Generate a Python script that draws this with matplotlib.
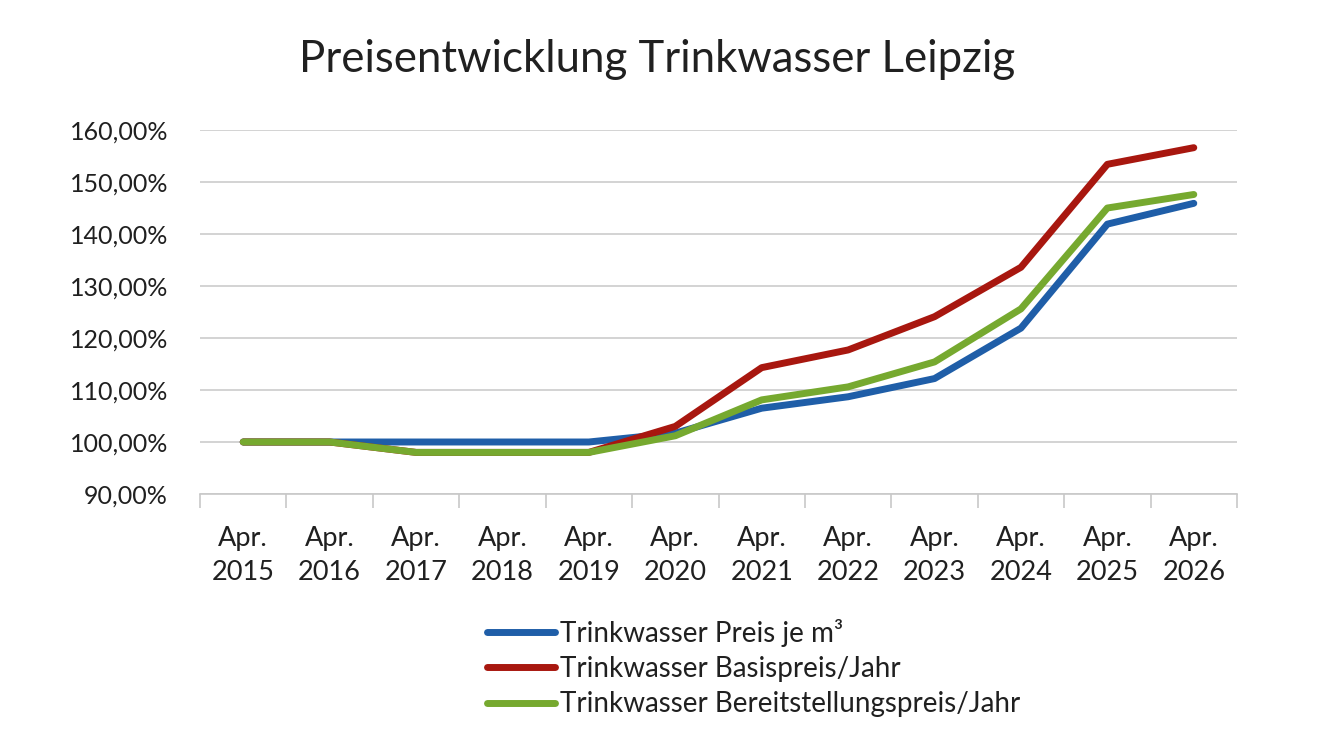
import matplotlib
matplotlib.use("Agg")
import matplotlib.pyplot as plt
from matplotlib.ticker import FuncFormatter, FixedLocator

plt.rcParams["font.family"] = ["Lato", "DejaVu Sans"]

years = ["Apr.\n2015", "Apr.\n2016", "Apr.\n2017", "Apr.\n2018", "Apr.\n2019", "Apr.\n2020",
         "Apr.\n2021", "Apr.\n2022", "Apr.\n2023", "Apr.\n2024", "Apr.\n2025", "Apr.\n2026"]
preis_m3 = [100, 100, 100, 100, 100, 101.7, 106.5, 108.7, 112.2, 121.9, 141.9, 145.9]
basispreis = [100, 100, 98, 98, 98, 103.0, 114.3, 117.7, 124.1, 133.6, 153.4, 156.6]
bereitstellung = [100, 100, 98, 98, 98, 101.2, 108.1, 110.6, 115.4, 125.6, 145.0, 147.6]

labels = ["Trinkwasser Preis je m³", "Trinkwasser Basispreis/Jahr",
          "Trinkwasser Bereitstellungspreis/Jahr"]
colors = ["#1F5EA8", "#A8170F", "#76A92F"]

fig = plt.figure(figsize=(13.18, 7.49), dpi=100)
ax = fig.add_axes([200 / 1318, 255 / 749, 1037 / 1318, 364 / 749])

x = list(range(len(years)))
# red under green where they overlap (2015-2019)
for series, lab, col, z in [(preis_m3, labels[0], colors[0], 3),
                            (basispreis, labels[1], colors[1], 4),
                            (bereitstellung, labels[2], colors[2], 5)]:
    ax.plot(x, series, color=col, linewidth=5, label=lab, zorder=z,
            solid_capstyle="round", solid_joinstyle="round")

ax.set_xlim(-0.5, len(years) - 0.5)
ax.set_ylim(90, 160)
ax.set_yticks(range(90, 161, 10))
ax.yaxis.set_major_formatter(FuncFormatter(lambda v, p: f"{v:.2f}%".replace(".", ",")))
ax.grid(axis="y", color="#D0D0D0", linewidth=1.3, zorder=0)

ax.set_xticks(x)
ax.set_xticklabels(years, fontsize=19.5, color="#202020", linespacing=1.45)
ax.xaxis.set_minor_locator(FixedLocator([i - 0.5 for i in range(len(years) + 1)]))
ax.tick_params(axis="x", which="major", length=0, pad=23)
ax.tick_params(axis="x", which="minor", length=10, color="#C8C8C8", width=1.2)
ax.tick_params(axis="y", length=0, pad=23, labelsize=18, labelcolor="#202020")

for side in ["left", "right", "top"]:
    ax.spines[side].set_visible(False)
ax.spines["bottom"].set_color("#C8C8C8")
ax.spines["bottom"].set_linewidth(1.2)

fig.text(657 / 1318, 1 - 60 / 749, "Preisentwicklung Trinkwasser Leipzig",
         ha="center", va="center", fontsize=31.5, color="#202020")

fig.legend(loc="upper left", bbox_to_anchor=(462 / 1318, 1 - 594 / 749), frameon=False,
           fontsize=20, handlelength=2.45, handletextpad=0.18, labelspacing=0.33,
           labelcolor="#202020")

fig.savefig("out.png", dpi=100)
